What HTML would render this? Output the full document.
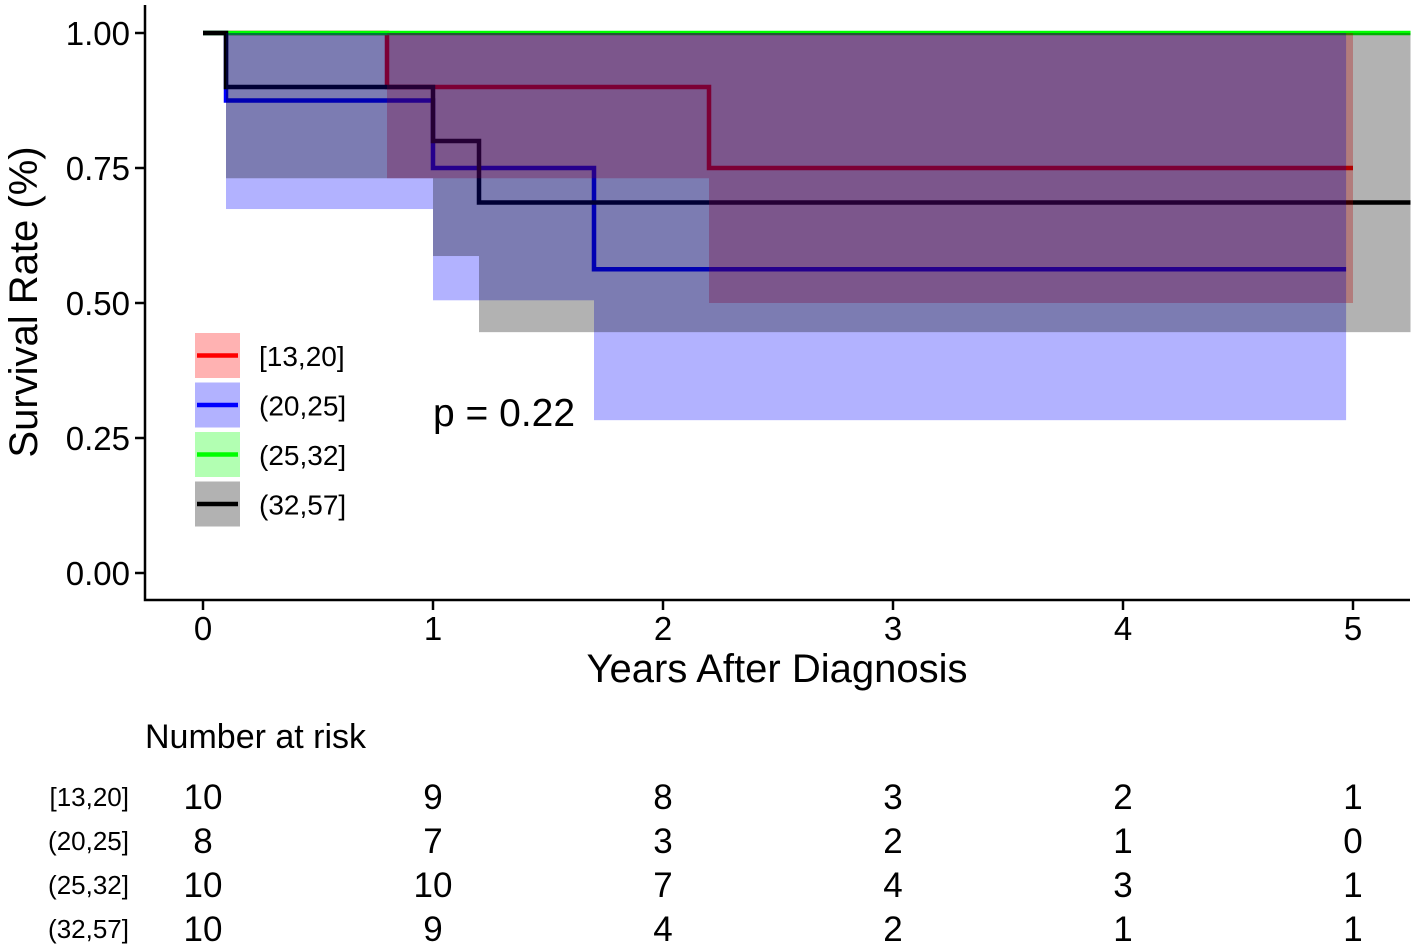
<!DOCTYPE html>
<html><head><meta charset="utf-8"><style>
body{margin:0;background:#fff;}
svg{display:block;font-family:"Liberation Sans",sans-serif;}
</style></head><body>
<svg id="chart" width="1417" height="950" viewBox="0 0 1417 950" xmlns="http://www.w3.org/2000/svg">
<g id="lines"></g>
<g id="bands"></g>
<g id="axes"></g>
<g id="legend"></g>
<g id="risk"></g>
</svg>
<script>
const groups = ["[13,20]","(20,25]","(25,32]","(32,57]"];
const colors = ["#ff0000","#0000ff","#00ff00","#000000"];
const redTimes = [0,0.8,2.2,5.0];
const redSurv = [1,0.9,0.75,0.75];
const redLower = [1,0.731,0.5,0.5];
const blueTimes = [0,0.1,1.0,1.7,4.97];
const blueSurv = [1,0.875,0.75,0.5625,0.5625];
const blueLower = [1,0.674,0.505,0.283,0.283];
const greenTimes = [0,5.25];
const greenSurv = [1,1];
const greenLower = [1,1];
const blackTimes = [0,0.1,1.0,1.2,5.25];
const blackSurv = [1,0.9,0.8,0.686,0.686];
const blackLower = [1,0.731,0.587,0.446,0.446];
const xTicks = [0,1,2,3,4,5];
const yTicks = [0,0.25,0.5,0.75,1];
const yTickLabels = ["0.00","0.25","0.50","0.75","1.00"];
const riskTimes = [0,1,2,3,4,5];
const riskRed = [10,9,8,3,2,1];
const riskBlue = [8,7,3,2,1,0];
const riskGreen = [10,10,7,4,3,1];
const riskBlack = [10,9,4,2,1,1];

const NS="http://www.w3.org/2000/svg";
const X = t => 203 + t*230;
const Y = s => 573 - s*540;
function mk(tag, attrs, parent){const e=document.createElementNS(NS,tag);for(const k in attrs)e.setAttribute(k,attrs[k]);parent.appendChild(e);return e;}
const series=[[redTimes,redSurv,redLower],[blueTimes,blueSurv,blueLower],[greenTimes,greenSurv,greenLower],[blackTimes,blackSurv,blackLower]];
const names=["red","blue","green","black"];
const linesG=document.getElementById('lines'), bandsG=document.getElementById('bands');
series.forEach((s,i)=>{
  const [t,sv,lo]=s;
  let d=`M${X(t[0])},${Y(sv[0])}`;
  for(let k=1;k<t.length;k++){d+=` H${X(t[k])} V${Y(sv[k])}`;}
  const p=mk('path',{d:d,fill:'none',stroke:colors[i],'stroke-width':4.5},linesG);
  
  
  for(let k=0;k<t.length-1;k++){
    const x0=X(t[k]),x1=X(t[k+1]),y0=Y(1),y1=Y(lo[k]);
    if(y1-y0<0.5)continue;
    const r=mk('rect',{x:x0,y:y0,width:x1-x0,height:y1-y0,fill:colors[i],'fill-opacity':0.3},bandsG);
    
    
  }
});
const ax=document.getElementById('axes');
let a=mk('path',{d:'M145,5 V600 H1410',fill:'none',stroke:'#000','stroke-width':2.5},ax);


yTicks.forEach((v,i)=>{
  mk('line',{x1:135,x2:145,y1:Y(v),y2:Y(v),stroke:'#000','stroke-width':2.5},ax);
  const t=mk('text',{x:130,y:Y(v)+12,'text-anchor':'end','font-size':33},ax);t.textContent=yTickLabels[i];
  
  
});
xTicks.forEach(v=>{
  mk('line',{x1:X(v),x2:X(v),y1:600,y2:610,stroke:'#000','stroke-width':2.5},ax);
  const t=mk('text',{x:X(v),y:640,'text-anchor':'middle','font-size':33},ax);t.textContent=v;
  
  
});
let xt=mk('text',{x:777,y:682,'text-anchor':'middle','font-size':40},ax);xt.textContent='Years After Diagnosis';


let yt=mk('text',{x:0,y:0,'text-anchor':'middle','font-size':40,transform:'translate(37,302) rotate(-90)'},ax);yt.textContent='Survival Rate (%)';


let pv=mk('text',{x:433,y:426,'font-size':39},ax);pv.textContent='p = 0.22';


const lg=document.getElementById('legend');
groups.forEach((g,i)=>{
  const y=333+i*49.5;
  const gg=mk('g',{},lg);
  
  
  mk('rect',{x:195,y:y,width:45,height:45,fill:colors[i],'fill-opacity':0.3},gg);
  mk('line',{x1:197,x2:238,y1:y+22.5,y2:y+22.5,stroke:colors[i],'stroke-width':4.5},gg);
  const t=mk('text',{x:259,y:y+33,'font-size':28},gg);t.textContent=g;
});
const rk=document.getElementById('risk');
let rt=mk('text',{x:145,y:748,'font-size':34},rk);rt.textContent='Number at risk';


[riskRed,riskBlue,riskGreen,riskBlack].forEach((row,i)=>{
  const y=797+i*44;
  const l=mk('text',{x:129,y:y+9,'text-anchor':'end','font-size':26},rk);l.textContent=groups[i];
  
  
  row.forEach((v,j)=>{
    const t=mk('text',{x:X(riskTimes[j]),y:y+12,'text-anchor':'middle','font-size':35},rk);t.textContent=v;
    
    
  });
});
</script>
</body></html>
